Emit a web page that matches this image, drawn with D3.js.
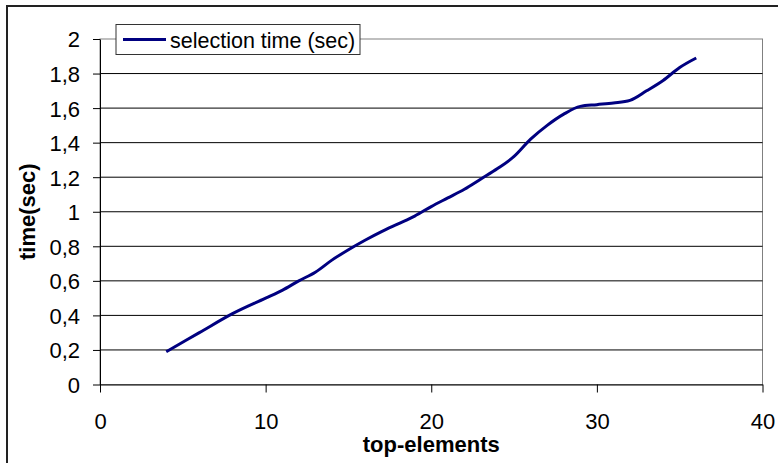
<!DOCTYPE html>
<html>
<head>
<meta charset="utf-8">
<script src="https://cdn.jsdelivr.net/npm/d3@7"></script>
<style>
  body { margin: 0; background: #fff; }
  svg { display: block; font-family: "Liberation Sans", Arial, sans-serif; }
</style>
</head>
<body>
<svg id="chart"></svg>
<script>
const topElements = [4, 6, 8, 10, 11, 12, 13, 14, 15, 16, 17, 18, 19, 20, 21, 22, 23, 24, 25, 26, 27, 28, 29, 30, 31, 32, 33, 34, 35, 36];
const selectionTime = [0.19, 0.30, 0.41, 0.50, 0.545, 0.60, 0.65, 0.72, 0.78, 0.835, 0.885, 0.93, 0.975, 1.03, 1.08, 1.13, 1.19, 1.25, 1.32, 1.42, 1.50, 1.565, 1.61, 1.62, 1.63, 1.645, 1.70, 1.76, 1.835, 1.89];
const xTicks = [0, 10, 20, 30, 40];
const yTicks = [0, 0.2, 0.4, 0.6, 0.8, 1, 1.2, 1.4, 1.6, 1.8, 2];
const seriesName = 'selection time (sec)';

const data = topElements.map((x, i) => ({ x: x, y: selectionTime[i] }));

const totalWidth = 778;
const totalHeight = 463;
const margin = { top: 39, right: 15.5, bottom: 78.5, left: 100 };
const width = totalWidth - margin.left - margin.right;
const height = totalHeight - margin.top - margin.bottom;

const svg = d3.select('#chart')
    .attr('width', totalWidth)
    .attr('height', totalHeight);

// outer chart border (runs off the bottom/right like the reference)
svg.append('rect')
    .attr('x', 7)
    .attr('y', 6)
    .attr('width', 900)
    .attr('height', 600)
    .attr('fill', 'none')
    .attr('stroke', '#222')
    .attr('stroke-width', 2);

const g = svg.append('g')
    .attr('transform', `translate(${margin.left},${margin.top})`);

const x = d3.scaleLinear()
    .domain([0, 40])
    .range([0, width]);

const y = d3.scaleLinear()
    .domain([0, 2])
    .range([height, 0]);

const commaFmt = d => String(d).replace('.', ',');

// plot area border (gray top/right)
g.append('rect')
    .attr('x', 0)
    .attr('y', 0)
    .attr('width', width)
    .attr('height', height)
    .attr('fill', 'none')
    .attr('stroke', '#808080')
    .attr('stroke-width', 1);

// gridlines
g.selectAll('.grid')
    .data(yTicks.filter(d => d > 0 && d < 2))
    .enter().append('line')
    .attr('class', 'grid')
    .attr('x1', 0)
    .attr('x2', width)
    .attr('y1', d => y(d))
    .attr('y2', d => y(d))
    .attr('stroke', '#000')
    .attr('stroke-width', 1);

const xAxis = g.append('g')
    .attr('transform', `translate(0,${height})`)
    .call(d3.axisBottom(x).tickValues(xTicks).tickSize(8).tickPadding(20.5).tickSizeOuter(0));
xAxis.select('.domain').attr('stroke', '#000');
xAxis.selectAll('line').attr('stroke', '#000');
xAxis.selectAll('text')
    .style('font-size', '22px')
    .style('font-family', '"Liberation Sans", Arial, sans-serif')
    .attr('fill', '#000');

const yAxis = g.append('g')
    .call(d3.axisLeft(y).tickValues(yTicks).tickFormat(commaFmt).tickSize(7).tickPadding(13).tickSizeOuter(0));
yAxis.select('.domain').attr('stroke', '#000');
yAxis.selectAll('line').attr('stroke', '#000');
yAxis.selectAll('text')
    .attr('dy', '0.36em')
    .style('font-size', '22px')
    .style('font-family', '"Liberation Sans", Arial, sans-serif')
    .attr('fill', '#000');

// the series
const line = d3.line()
    .x(d => x(d.x))
    .y(d => y(d.y))
    .curve(d3.curveMonotoneX);

g.append('path')
    .datum(data)
    .attr('fill', 'none')
    .attr('stroke', '#000080')
    .attr('stroke-width', 3)
    .attr('stroke-linejoin', 'round')
    .attr('d', line);

// axis titles
svg.append('text')
    .attr('x', margin.left + width / 2)
    .attr('y', 451.5)
    .attr('text-anchor', 'middle')
    .style('font-size', '22px')
    .style('font-weight', 'bold')
    .text('top-elements');

svg.append('text')
    .attr('transform', `translate(35,${margin.top + height / 2}) rotate(-90)`)
    .attr('text-anchor', 'middle')
    .style('font-size', '22px')
    .style('font-weight', 'bold')
    .text('time(sec)');

// legend
const legend = svg.append('g');
legend.append('rect')
    .attr('x', 116)
    .attr('y', 24.5)
    .attr('width', 244)
    .attr('height', 30)
    .attr('fill', '#fff')
    .attr('stroke', '#333')
    .attr('stroke-width', 1);
legend.append('line')
    .attr('x1', 123)
    .attr('x2', 166)
    .attr('y1', 39.5)
    .attr('y2', 39.5)
    .attr('stroke', '#000080')
    .attr('stroke-width', 3);
legend.append('text')
    .attr('x', 170)
    .attr('y', 47.5)
    .style('font-size', '21.5px')
    .text(seriesName);
</script>
</body>
</html>
